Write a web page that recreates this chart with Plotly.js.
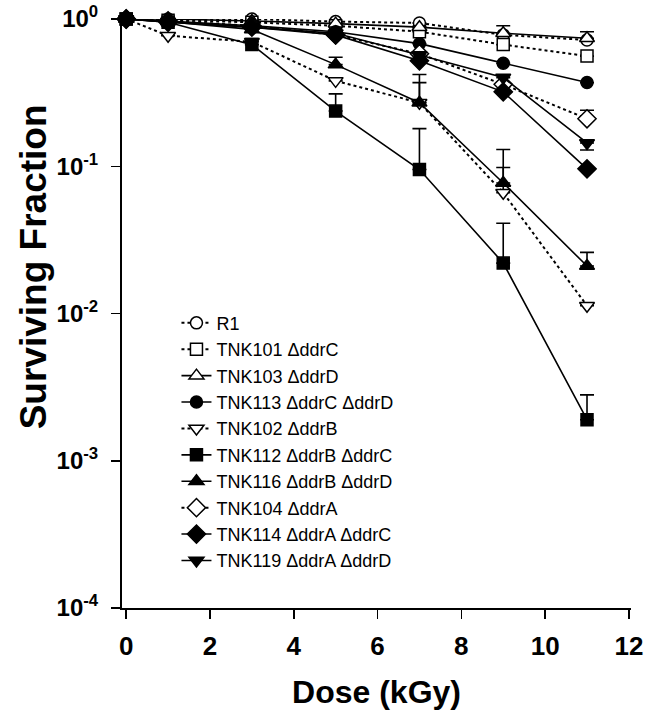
<!DOCTYPE html>
<html>
<head>
<meta charset="utf-8">
<script src="https://cdn.plot.ly/plotly-3.0.1.min.js"></script>
<style>html,body{margin:0;padding:0;background:#fff;}#chart{width:650px;height:720px;}</style>
</head>
<body>
<div id="chart"></div>
<script>
// Dose (kGy)
const dose = [0, 1, 3, 5, 7, 9, 11];

// Surviving fraction per strain
const R1      = [1, 1.00, 1.00, 0.96, 0.94, 0.78, 0.72];
const TNK101  = [1, 0.98, 0.95, 0.90, 0.82, 0.67, 0.56];
const TNK103  = [1, 1.00, 0.97, 0.93, 0.88, 0.80, 0.74];
const TNK113  = [1, 0.97, 0.90, 0.82, 0.68, 0.50, 0.37];
const TNK102  = [1, 0.77, 0.70, 0.38, 0.27, 0.066, 0.0113];
const TNK112  = [1, 0.95, 0.67, 0.237, 0.095, 0.022, 0.0019];
const TNK116  = [1, 0.96, 0.85, 0.49, 0.27, 0.077, 0.021];
const TNK104  = [1, 0.97, 0.90, 0.78, 0.58, 0.36, 0.21];
const TNK114  = [1, 0.95, 0.88, 0.78, 0.52, 0.32, 0.096];
const TNK119  = [1, 0.96, 0.88, 0.80, 0.57, 0.40, 0.144];

// Error bars (upper / lower)
const errR1Up      = [0, 0, 0, 0, 0.10, 0.12, 0.10];
const errTNK112Up  = [0, 0, 0, 0.073, 0.085, 0.019, 0.0009];
const errTNK116Up  = [0, 0, 0, 0.06, 0.15, 0.053, 0.005];
const errTNK102Up  = [0, 0, 0, 0, 0.10, 0.032, 0];
const errTNK104Up  = [0, 0, 0, 0, 0, 0, 0.03];
const errTNK119Down= [0, 0, 0, 0, 0, 0, 0.015];
const zeros        = [0, 0, 0, 0, 0, 0, 0];

// Legend labels
const names = ["R1", "TNK101 \u0394ddrC", "TNK103 \u0394ddrD", "TNK113 \u0394ddrC \u0394ddrD",
  "TNK102 \u0394ddrB", "TNK112 \u0394ddrB \u0394ddrC", "TNK116 \u0394ddrB \u0394ddrD",
  "TNK104 \u0394ddrA", "TNK114 \u0394ddrA \u0394ddrC", "TNK119 \u0394ddrA \u0394ddrD"];

// Tick labels and titles
const yTickVals = [1, 0.1, 0.01, 0.001, 0.0001];
const yTickText = ["10<sup>0</sup>", "10<sup>-1</sup>", "10<sup>-2</sup>", "10<sup>-3</sup>", "10<sup>-4</sup>"];
const xTickVals = [0, 2, 4, 6, 8, 10, 12];
const xTitle = "Dose (kGy)";
const yTitle = "Surviving Fraction";

const series = [
  {y: R1, name: names[0], sym: "circle", open: true, dash: "dot", up: errR1Up, down: zeros},
  {y: TNK101, name: names[1], sym: "square", open: true, dash: "dot", up: zeros, down: zeros},
  {y: TNK103, name: names[2], sym: "triangle-up", open: true, dash: "solid", up: zeros, down: zeros},
  {y: TNK113, name: names[3], sym: "circle", open: false, dash: "solid", up: zeros, down: zeros},
  {y: TNK102, name: names[4], sym: "triangle-down", open: true, dash: "dot", up: errTNK102Up, down: zeros},
  {y: TNK112, name: names[5], sym: "square", open: false, dash: "solid", up: errTNK112Up, down: zeros},
  {y: TNK116, name: names[6], sym: "triangle-up", open: false, dash: "solid", up: errTNK116Up, down: zeros},
  {y: TNK104, name: names[7], sym: "diamond", open: true, dash: "dot", up: errTNK104Up, down: zeros},
  {y: TNK114, name: names[8], sym: "diamond", open: false, dash: "solid", up: zeros, down: zeros},
  {y: TNK119, name: names[9], sym: "triangle-down", open: false, dash: "solid", up: zeros, down: errTNK119Down}
];

const traces = series.map((s, i) => ({
  x: dose, y: s.y, name: s.name, type: "scatter", mode: "lines+markers",
  legendgroup: "g" + i,
  cliponaxis: false,
  line: {color: "black", width: s.dash === "dot" ? 2 : 1.6, dash: s.dash},
  marker: {symbol: s.sym, size: s.sym.startsWith("triangle") ? 13 : (s.sym === "diamond" ? 14 : 12),
           color: s.open ? "white" : "black", line: {color: "black", width: 1.5}},
  error_y: {type: "data", symmetric: false, array: s.up, arrayminus: s.down,
            color: "black", thickness: 1.6, width: 7}
}));

const fontFam = "Liberation Sans, Arial, sans-serif";
const layout = {
  width: 650, height: 720,
  margin: {l: 122, r: 19, t: 19, b: 112},
  paper_bgcolor: "white", plot_bgcolor: "white",
  showlegend: true,
  legend: {x: 0.107, y: 0.515, xanchor: "left", yanchor: "top",
           font: {family: fontFam, size: 18, color: "black"},
           bgcolor: "rgba(0,0,0,0)", tracegroupgap: 0, itemwidth: 30},
  xaxis: {
    range: [-0.1, 12.05], tickvals: xTickVals, ticks: "outside", ticklen: 9, tickwidth: 1.5,
    tickcolor: "black", showline: true, linecolor: "black", linewidth: 2, showgrid: false,
    zeroline: false, ticklabelstandoff: 5, ticklabeloverflow: "allow",
    tickfont: {family: fontFam, size: 26, color: "black", weight: "bold"},
    title: {text: xTitle, font: {family: fontFam, size: 32, color: "black", weight: "bold"}, standoff: 20}
  },
  yaxis: {
    type: "log", range: [-4, 0], tickvals: yTickVals, ticktext: yTickText,
    ticks: "outside", ticklen: 9, tickwidth: 1.5, tickcolor: "black",
    showline: true, linecolor: "black", linewidth: 2, showgrid: false, zeroline: false,
    ticklabelstandoff: 8, ticklabeloverflow: "allow",
    tickfont: {family: fontFam, size: 24, color: "black", weight: "bold"}
  },
  annotations: [{
    text: yTitle, textangle: -90, xref: "paper", yref: "paper",
    x: -0.175, y: 0.58, xanchor: "center", yanchor: "middle", showarrow: false,
    font: {family: fontFam, size: 37, color: "black", weight: "bold"}
  }]
};

Plotly.newPlot("chart", traces, layout, {displayModeBar: false, staticPlot: true});
</script>
</body>
</html>
